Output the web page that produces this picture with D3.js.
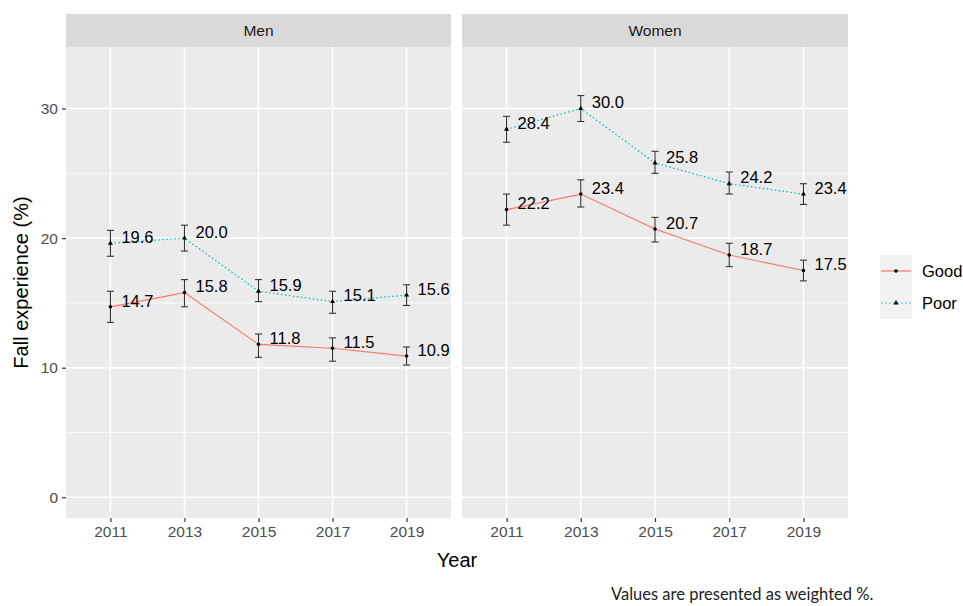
<!DOCTYPE html>
<html>
<head>
<meta charset="utf-8">
<script src="https://cdn.jsdelivr.net/npm/d3@7"></script>
<style>
  html, body { margin: 0; padding: 0; background: #fff; }
  svg { display: block; font-family: "Liberation Sans", Arial, sans-serif; }
</style>
</head>
<body>
<svg id="chart" width="963" height="606"></svg>
<script>
// Survey years (discrete x positions)
const years = ["2011", "2013", "2015", "2017", "2019"];
const panels = ["Men", "Women"];
const groups = ["Good", "Poor"];
const yTicks = [0, 10, 20, 30];
const yMinor = [5, 15, 25];

// Weighted fall experience (%) with confidence limits
const menGood      = [14.7, 15.8, 11.8, 11.5, 10.9];
const menGoodLow   = [13.5, 14.7, 10.8, 10.5, 10.2];
const menGoodHigh  = [15.9, 16.8, 12.6, 12.3, 11.6];
const menPoor      = [19.6, 20.0, 15.9, 15.1, 15.6];
const menPoorLow   = [18.6, 19.0, 15.1, 14.2, 14.8];
const menPoorHigh  = [20.6, 21.0, 16.8, 15.9, 16.4];
const womenGood     = [22.2, 23.4, 20.7, 18.7, 17.5];
const womenGoodLow  = [21.0, 22.4, 19.7, 17.8, 16.7];
const womenGoodHigh = [23.4, 24.5, 21.6, 19.6, 18.3];
const womenPoor     = [28.4, 30.0, 25.8, 24.2, 23.4];
const womenPoorLow  = [27.4, 29.0, 25.0, 23.4, 22.6];
const womenPoorHigh = [29.4, 31.0, 26.7, 25.1, 24.2];

const seriesData = {
  Men: {
    Good: { v: menGood, lo: menGoodLow, hi: menGoodHigh },
    Poor: { v: menPoor, lo: menPoorLow, hi: menPoorHigh }
  },
  Women: {
    Good: { v: womenGood, lo: womenGoodLow, hi: womenGoodHigh },
    Poor: { v: womenPoor, lo: womenPoorLow, hi: womenPoorHigh }
  }
};

const colors = { Good: "#F8766D", Poor: "#00BFC4" };
const dashes = { Good: null, Poor: "1.6,2.4" };

const svg = d3.select("#chart");

const panelTop = 47, panelBottom = 518, stripTop = 14;
const panelX = { Men: [66, 451], Women: [462, 848] };

const y = d3.scaleLinear().domain([-1.6, 34.75]).range([panelBottom, panelTop]);

panels.forEach(p => {
  const [x0, x1] = panelX[p];
  const x = d3.scalePoint().domain(years).range([x0, x1]).padding(0.6);
  const g = svg.append("g");

  // strip
  g.append("rect").attr("x", x0).attr("y", stripTop).attr("width", x1 - x0)
    .attr("height", panelTop - stripTop).attr("fill", "#D9D9D9");
  g.append("text").attr("x", (x0 + x1) / 2).attr("y", (stripTop + panelTop) / 2)
    .attr("dy", "0.35em").attr("text-anchor", "middle")
    .attr("font-size", 15.5).attr("fill", "#1A1A1A").text(p);

  // panel background
  g.append("rect").attr("x", x0).attr("y", panelTop).attr("width", x1 - x0)
    .attr("height", panelBottom - panelTop).attr("fill", "#EBEBEB");

  // grid
  g.selectAll(".minor").data(yMinor).join("line")
    .attr("x1", x0).attr("x2", x1).attr("y1", d => y(d)).attr("y2", d => y(d))
    .attr("stroke", "#fff").attr("stroke-width", 0.8);
  g.selectAll(".major").data(yTicks).join("line")
    .attr("x1", x0).attr("x2", x1).attr("y1", d => y(d)).attr("y2", d => y(d))
    .attr("stroke", "#fff").attr("stroke-width", 1.6);
  g.selectAll(".vmajor").data(years).join("line")
    .attr("x1", d => x(d)).attr("x2", d => x(d)).attr("y1", panelTop).attr("y2", panelBottom)
    .attr("stroke", "#fff").attr("stroke-width", 1.6);

  // x axis
  const xa = g.append("g").attr("transform", `translate(0,${panelBottom})`)
    .call(d3.axisBottom(x).tickSize(4).tickPadding(4));
  xa.select(".domain").remove();
  xa.selectAll(".tick line").attr("stroke", "#333").attr("stroke-width", 1.2);
  xa.selectAll(".tick text").attr("font-size", 15.5).attr("fill", "#4D4D4D")
    .attr("font-family", "'Liberation Sans', Arial, sans-serif");

  // y axis on first panel only
  if (p === "Men") {
    const ya = g.append("g").attr("transform", `translate(${x0},0)`)
      .call(d3.axisLeft(y).tickValues(yTicks).tickSize(4).tickPadding(4));
    ya.select(".domain").remove();
    ya.selectAll(".tick line").attr("stroke", "#333").attr("stroke-width", 1.2);
    ya.selectAll(".tick text").attr("font-size", 15.5).attr("fill", "#4D4D4D")
      .attr("font-family", "'Liberation Sans', Arial, sans-serif");
  }

  groups.forEach(k => {
    const s = seriesData[p][k];
    const pts = years.map((yr, i) => ({ yr, v: s.v[i], lo: s.lo[i], hi: s.hi[i] }));

    // line
    g.append("path").datum(pts)
      .attr("d", d3.line().x(d => x(d.yr)).y(d => y(d.v)))
      .attr("fill", "none").attr("stroke", colors[k]).attr("stroke-width", 1.2)
      .attr("stroke-dasharray", dashes[k]);

    // error bars
    const eb = g.append("g").attr("stroke", "#333").attr("stroke-width", 1.1);
    pts.forEach(d => {
      const cx = x(d.yr);
      eb.append("line").attr("x1", cx).attr("x2", cx).attr("y1", y(d.lo)).attr("y2", y(d.hi));
      eb.append("line").attr("x1", cx - 3.5).attr("x2", cx + 3.5).attr("y1", y(d.lo)).attr("y2", y(d.lo));
      eb.append("line").attr("x1", cx - 3.5).attr("x2", cx + 3.5).attr("y1", y(d.hi)).attr("y2", y(d.hi));
    });

    // points
    if (k === "Good") {
      g.selectAll(null).data(pts).join("circle")
        .attr("cx", d => x(d.yr)).attr("cy", d => y(d.v)).attr("r", 1.8).attr("fill", "#000");
    } else {
      g.selectAll(null).data(pts).join("path")
        .attr("d", d3.symbol(d3.symbolTriangle, 11))
        .attr("transform", d => `translate(${x(d.yr)},${y(d.v)})`).attr("fill", "#000");
    }

    // value labels
    g.selectAll(null).data(pts).join("text")
      .attr("x", d => x(d.yr) + 11).attr("y", d => y(d.v) - 6).attr("dy", "0.35em")
      .attr("font-size", 16.5).attr("fill", "#000").text(d => d.v.toFixed(1));
  });
});

// axis titles
svg.append("text").attr("x", (66 + 848) / 2).attr("y", 560).attr("dy", "0.35em")
  .attr("text-anchor", "middle").attr("font-size", 20).attr("fill", "#000").text("Year");
svg.append("text").attr("transform", `translate(21,${(panelTop + panelBottom) / 2}) rotate(-90)`)
  .attr("dy", "0.35em").attr("text-anchor", "middle").attr("font-size", 20)
  .attr("fill", "#000").text("Fall experience (%)");

// legend
const lg = svg.append("g");
groups.forEach((k, i) => {
  const ky = 255 + i * 32;
  lg.append("rect").attr("x", 880).attr("y", ky).attr("width", 32).attr("height", 32).attr("fill", "#F2F2F2");
  lg.append("line").attr("x1", 881).attr("x2", 911).attr("y1", ky + 16).attr("y2", ky + 16)
    .attr("stroke", colors[k]).attr("stroke-width", 1.2).attr("stroke-dasharray", dashes[k]);
  if (k === "Good") {
    lg.append("circle").attr("cx", 896).attr("cy", ky + 16).attr("r", 1.8).attr("fill", "#000");
  } else {
    lg.append("path").attr("d", d3.symbol(d3.symbolTriangle, 11)())
      .attr("transform", `translate(896,${ky + 16})`).attr("fill", "#000");
  }
  lg.append("text").attr("x", 922).attr("y", ky + 16).attr("dy", "0.35em")
    .attr("font-size", 16.5).attr("fill", "#000").text(k);
});

// footnote
svg.append("text").attr("x", 611).attr("y", 600).attr("font-size", 16.5)
  .attr("font-family", "Lato, 'Open Sans', sans-serif").attr("fill", "#222")
  .text("Values are presented  as weighted %.");
</script>
</body>
</html>
